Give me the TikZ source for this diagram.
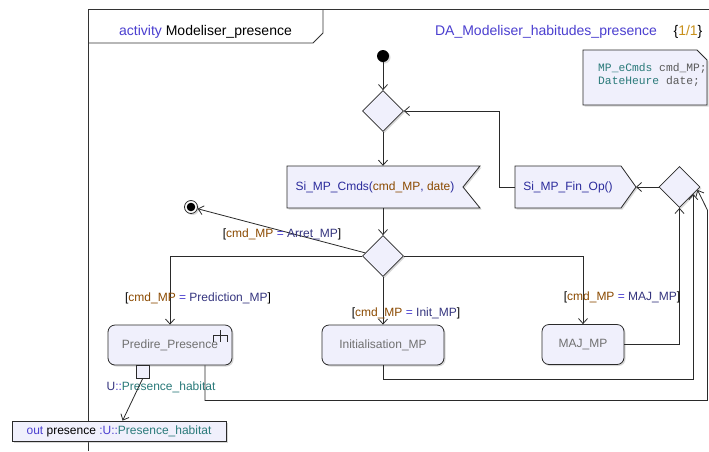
\documentclass[tikz,border=0pt]{standalone}
\usepackage{fontspec}
\setmainfont{Liberation Sans}
\setmonofont{Liberation Mono}
\usetikzlibrary{arrows.meta,shadows,shapes.geometric,calc}
\definecolor{kwblue}{HTML}{4B3FD0}
\definecolor{sigblue}{HTML}{2B2B9C}
\definecolor{guardblue}{HTML}{35357F}
\definecolor{brownv}{HTML}{8B4A00}
\definecolor{orangev}{HTML}{C8901A}
\definecolor{tealv}{HTML}{2A7A7A}
\definecolor{nodefill}{HTML}{F0F0FC}
\definecolor{nodetext}{HTML}{707070}
\definecolor{linecol}{HTML}{2A2A2A}
\definecolor{notegray}{HTML}{5A5A5A}
\newcommand\guardtxt[1]{[\textcolor{brownv}{cmd\_MP} \textcolor{kwblue}{=} \textcolor{guardblue}{#1}]}
\begin{document}
\begin{tikzpicture}[x=1pt,y=-1pt,
  shad/.style={drop shadow={opacity=0.3,shadow xshift=1.5pt,shadow yshift=-1.5pt}},
  txt/.style={font=\fontsize{12}{14}\selectfont},
  action/.style={txt,draw=linecol,line width=0.8pt,fill=nodefill,rounded corners=7pt,minimum height=40pt,text=nodetext,inner sep=0pt,shad},
  decision/.style={diamond,draw=linecol,line width=0.8pt,fill=nodefill,minimum width=41pt,minimum height=41pt,inner sep=0pt,shad},
  arr/.style={draw=linecol,line width=0.8pt,-{Straight Barb[length=5pt,width=9pt]}},
  guard/.style={txt,inner sep=0pt},
  shapebox/.style={fill=nodefill,draw=linecol,line width=0.8pt,shad},
]
\useasboundingbox (0,0) rectangle (709,451);
\fill[white] (0,0) rectangle (709,451);
% frame
\draw[line width=0.8pt,draw=black!80] (88,451) -- (88,9) -- (709,9);
\draw[line width=0.8pt,draw=black!80] (88,43) -- (313,43) -- (323,33) -- (323,9);
\node[font=\fontsize{14}{16}\selectfont] (title) at (205.5,31.5) {\textcolor{kwblue}{activity} Modeliser\_presence};
\node[font=\fontsize{14}{16}\selectfont,text=kwblue] (daname) at (546,31.5) {DA\_Modeliser\_habitudes\_presence};
\node[font=\fontsize{14}{16}\selectfont] (page) at (688,31.5) {\{\textcolor{orangev}{1/1}\}};
% note
\path[shapebox] (583,50) -- (697,50) -- (707,60) -- (707,105) -- (583,105) -- cycle;
\node[font=\fontsize{11.3}{13}\ttfamily,anchor=west,align=left,inner sep=0pt] (notetxt) at (598,74.5) {\textcolor{tealv}{MP\_eCmds} \textcolor{notegray}{cmd\_MP;}\\\textcolor{tealv}{DateHeure} \textcolor{notegray}{date;}};
% start, merges
\node[circle,fill=black,minimum size=12pt,inner sep=0pt,shad] (start) at (383,56) {};
\node[decision] (m1) at (383,111) {};
% accept signal
\path[shapebox] (287,166) -- (480,166) -- (463,187) -- (480,208) -- (287,208) -- cycle;
\node[txt,minimum width=176pt,minimum height=42pt,inner sep=0pt] (cmds) at (375,187) {\textcolor{sigblue}{Si\_MP\_Cmds(}\textcolor{brownv}{cmd\_MP}\textcolor{sigblue}{,} \textcolor{brownv}{date}\textcolor{sigblue}{)}};
% send signal
\path[shapebox] (515,166) -- (621,166) -- (636,187) -- (621,208) -- (515,208) -- cycle;
\node[txt,text=sigblue,minimum width=106pt,minimum height=42pt,inner sep=0pt] (fin) at (568,187) {Si\_MP\_Fin\_Op()};
\coordinate (fintip) at (636,187);
\node[decision] (m2) at (679.5,187) {};
\node[decision] (d) at (383,256) {};
% final
\node[circle,draw=linecol,fill=white,line width=0.8pt,minimum size=13pt,inner sep=0pt,shad] (final) at (191,207) {};
\fill[black] (final.center) circle (4.3pt);
% actions
\node[action,minimum width=124pt] (pred) at (170,345) {Predire\_Presence};
\node[action,minimum width=122pt] (init) at (383,345) {Initialisation\_MP};
\node[action,minimum width=82pt] (maj) at (583,344.5) {MAJ\_MP};
\draw[linecol,line width=0.8pt] (220.3,330) -- (220.3,342) (213.3,335.7) -- (227.7,335.7) (213.3,335.7) -- (213.3,342) (227.7,335.7) -- (227.7,342);
% pin and output
\node[draw=linecol,fill=nodefill,line width=0.8pt,minimum size=13pt,inner sep=0pt] (pin) at (142.5,372) {};
\node[txt,inner sep=0pt] (pinlbl) at (161,387) {\textcolor{guardblue}{U}\textcolor{kwblue}{::}\textcolor{tealv}{Presence\_habitat}};
\node[txt,draw=linecol,fill=nodefill,line width=0.8pt,minimum width=214pt,minimum height=20pt,inner sep=0pt,shad] (outbox) at (119,431) {\textcolor{kwblue}{out} presence \textcolor{kwblue}{:U::}\textcolor{tealv}{Presence\_habitat}};
% connectors
\draw[arr] (start) -- (m1.north);
\draw[arr] (m1.south) -- (m1.south |- cmds.north);
\draw[arr] (fin.west) -- ++(-15,0) |- (m1.east);
\draw[arr] (m2.west) -- (fintip);
\draw[arr] (cmds.south -| d.north) -- (d.north);
\draw[arr] (d.west) -| (pred.north);
\draw[arr] (d.south) -- (init.north);
\draw[arr] (d.east) -| (maj.north);
\draw[arr] ($(d.west)!0.15!(d.north)$) -- (final);
\draw[arr] (maj.east) -| (m2.south);
\coordinate (m2e1) at ($(m2.south)!0.66!(m2.east)$);
\coordinate (m2e2) at ($(m2.south)!0.86!(m2.east)$);
\draw[arr] (init.south) -- ++(0,14) -| (m2e1);
\draw[arr] ($(pred.south)+(35,0)$) -- ++(0,35) -| ($(m2.east)+(7,23)$) -- (m2e2);
\draw[arr] (pin.south) -- ($(outbox.north west)+(111,0)$);
% guards
\node[guard] (g1) at (282,234) {\guardtxt{Arret\_MP}};
\node[guard] (g2) at (198,298) {\guardtxt{Prediction\_MP}};
\node[guard] (g3) at (406,313) {\guardtxt{Init\_MP}};
\node[guard] (g4) at (622,297) {\guardtxt{MAJ\_MP}};
\end{tikzpicture}
\end{document}
